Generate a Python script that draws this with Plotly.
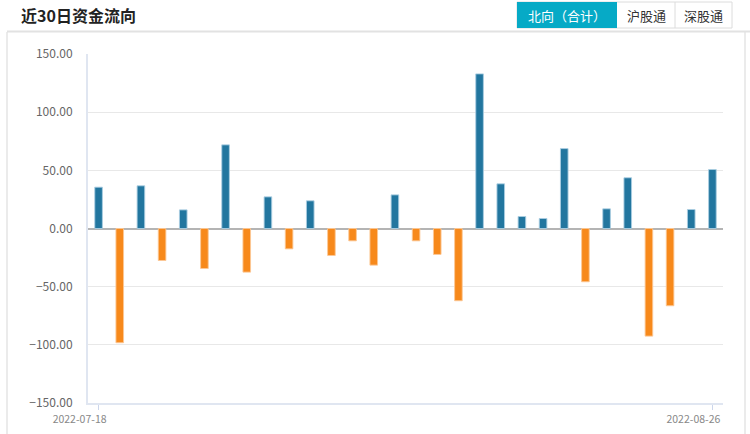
import plotly.graph_objects as go

dates = ["2022-07-18", "2022-07-19", "2022-07-20", "2022-07-21", "2022-07-22",
         "2022-07-25", "2022-07-26", "2022-07-27", "2022-07-28", "2022-07-29",
         "2022-08-01", "2022-08-02", "2022-08-03", "2022-08-04", "2022-08-05",
         "2022-08-08", "2022-08-09", "2022-08-10", "2022-08-11", "2022-08-12",
         "2022-08-15", "2022-08-16", "2022-08-17", "2022-08-18", "2022-08-19",
         "2022-08-22", "2022-08-23", "2022-08-24", "2022-08-25", "2022-08-26"]
flows = [35.5, -98.2, 36.7, -27.5, 16.0, -34.4, 71.9, -37.5, 27.2, -17.5,
         23.8, -23.2, -10.6, -31.5, 28.9, -10.6, -22.3, -62.1, 132.9, 38.4,
         10.3, 8.6, 68.7, -45.8, 16.9, 43.6, -92.5, -66.4, 16.3, 50.7]
y_ticks = [-150, -100, -50, 0, 50, 100, 150]
x_ticks = [dates[0], dates[-1]]

BLUE = "#22769f"
ORANGE = "#f7891b"
W, H = 750, 434
L, R, T, B = 88, 27, 54, 31
PW, PH = W - L - R, H - T - B

def px(x):
    return (x - L) / PW

def py(y):
    return (H - B - y) / PH

colors = [BLUE if v >= 0 else ORANGE for v in flows]
edge = ["rgba(170,205,225,0.9)" if v >= 0 else "rgba(252,200,150,0.9)" for v in flows]

fig = go.Figure(go.Bar(
    x=dates, y=flows, width=0.36,
    marker=dict(color=colors, line=dict(color=edge, width=1)),
    hoverinfo="x+y",
))

font = "Noto Sans CJK SC"
shapes = [
    # card borders
    dict(type="line", xref="paper", yref="paper", x0=px(7), x1=px(7), y0=py(32), y1=py(434), line=dict(color="#e4e4e4", width=1.5)),
    dict(type="line", xref="paper", yref="paper", x0=px(745), x1=px(745), y0=py(32), y1=py(434), line=dict(color="#e4e4e4", width=1.5)),
    dict(type="line", xref="paper", yref="paper", x0=px(7), x1=px(750), y0=py(31.5), y1=py(31.5), line=dict(color="#e2e2e2", width=2)),
    # buttons
    dict(type="rect", xref="paper", yref="paper", x0=px(517), x1=px(732), y0=py(2), y1=py(28), line=dict(color="#dcdcdc", width=1), fillcolor="white"),
    dict(type="rect", xref="paper", yref="paper", x0=px(517), x1=px(617), y0=py(2), y1=py(28), line=dict(width=0), fillcolor="#06aac6"),
    dict(type="line", xref="paper", yref="paper", x0=px(675), x1=px(675), y0=py(2), y1=py(28), line=dict(color="#dcdcdc", width=1)),
]
annotations = [
    dict(text="<b>近30日资金流向</b>", xref="paper", yref="paper", x=px(19), y=py(15), xanchor="left", yanchor="middle",
         showarrow=False, font=dict(family=font, size=16, color="#222")),
    dict(text="北向（合计）", xref="paper", yref="paper", x=px(567), y=py(15), xanchor="center", yanchor="middle",
         showarrow=False, font=dict(family=font, size=13, color="white")),
    dict(text="沪股通", xref="paper", yref="paper", x=px(646), y=py(15), xanchor="center", yanchor="middle",
         showarrow=False, font=dict(family=font, size=13, color="#333")),
    dict(text="深股通", xref="paper", yref="paper", x=px(703.5), y=py(15), xanchor="center", yanchor="middle",
         showarrow=False, font=dict(family=font, size=13, color="#333")),
]

fig.update_layout(
    width=W, height=H,
    margin=dict(l=L, r=R, t=T, b=B, autoexpand=False),
    paper_bgcolor="white", plot_bgcolor="white",
    showlegend=False,
    shapes=shapes, annotations=annotations,
    font=dict(family=font, color="#666"),
    xaxis=dict(
        type="category", range=[-0.5, len(dates) - 0.5], automargin=False,
        tickmode="array", tickvals=x_ticks, ticktext=x_ticks,
        ticks="outside", ticklen=5, tickcolor="#ccd6eb",
        showline=True, linecolor="#e0e6f1", linewidth=2,
        showgrid=False, tickfont=dict(size=10.5, color="#888"),
        ticklabelshift=-19,
    ),
    yaxis=dict(
        range=[-150, 150], tickmode="array", tickvals=y_ticks, automargin=False,
        tickformat=".2f", showline=True, linecolor="#e0e6f1", linewidth=2,
        gridcolor="#e8e8e8", gridwidth=1,
        zeroline=True, zerolinecolor="#b4b4b4", zerolinewidth=1.5,
        ticks="", ticklabelstandoff=11, tickfont=dict(size=12, color="#666"),
    ),
)

fig.write_html("out.html", config={"displayModeBar": False},
               post_script="document.body.style.margin='0';document.body.style.overflow='hidden';")
